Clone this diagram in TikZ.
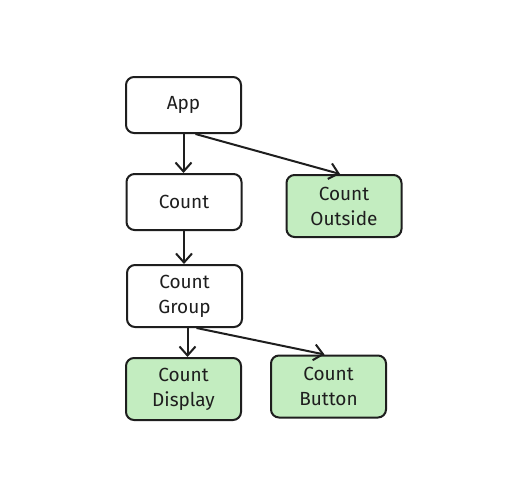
\documentclass[tikz,border=0pt]{standalone}
\usepackage{fontspec}
\setmainfont{Fira Sans}
\usetikzlibrary{arrows.meta,calc}
\definecolor{boxgreen}{HTML}{C3EDC0}
\definecolor{ink}{HTML}{1E1E1E}
\tikzset{
  box/.style={draw=ink, line width=2pt, rounded corners=8pt, minimum width=115pt, align=center, font=\fontsize{19}{25}\selectfont, text=ink, inner sep=0pt},
  onebox/.style={box, minimum height=56pt},
  twobox/.style={box, minimum height=62pt},
  greenbox/.style={fill=boxgreen},
  conn/.style={draw=ink, line width=2pt, -{Straight Barb[length=9pt,width=16pt,line width=2pt]}}
}
\begin{document}
\begin{tikzpicture}[x=1pt,y=-1pt]
\useasboundingbox[fill=white] (0,0) rectangle (507,490);
\node[onebox] (app) at (183.5,105) {App};
\node[onebox] (count) at (184,202) {Count};
\node[twobox,greenbox] (outside) at (344,206) {Count\\Outside};
\node[twobox] (group) at (184.5,296) {Count\\Group};
\node[twobox,greenbox] (display) at (183.5,389) {Count\\Display};
\node[twobox,greenbox] (button) at (328.5,386.5) {Count\\Button};
\draw[conn] (app.south) -- (app.south |- count.north);
\draw[conn] ([xshift=12pt]app.south) -- ([xshift=-4pt]outside.north);
\draw[conn] (count.south) -- (count.south |- group.north);
\draw[conn] ([xshift=3pt]group.south) -- ([xshift=3pt]group.south |- display.north);
\draw[conn] ([xshift=12pt]group.south) -- ([xshift=-4pt]button.north);
\end{tikzpicture}
\end{document}
